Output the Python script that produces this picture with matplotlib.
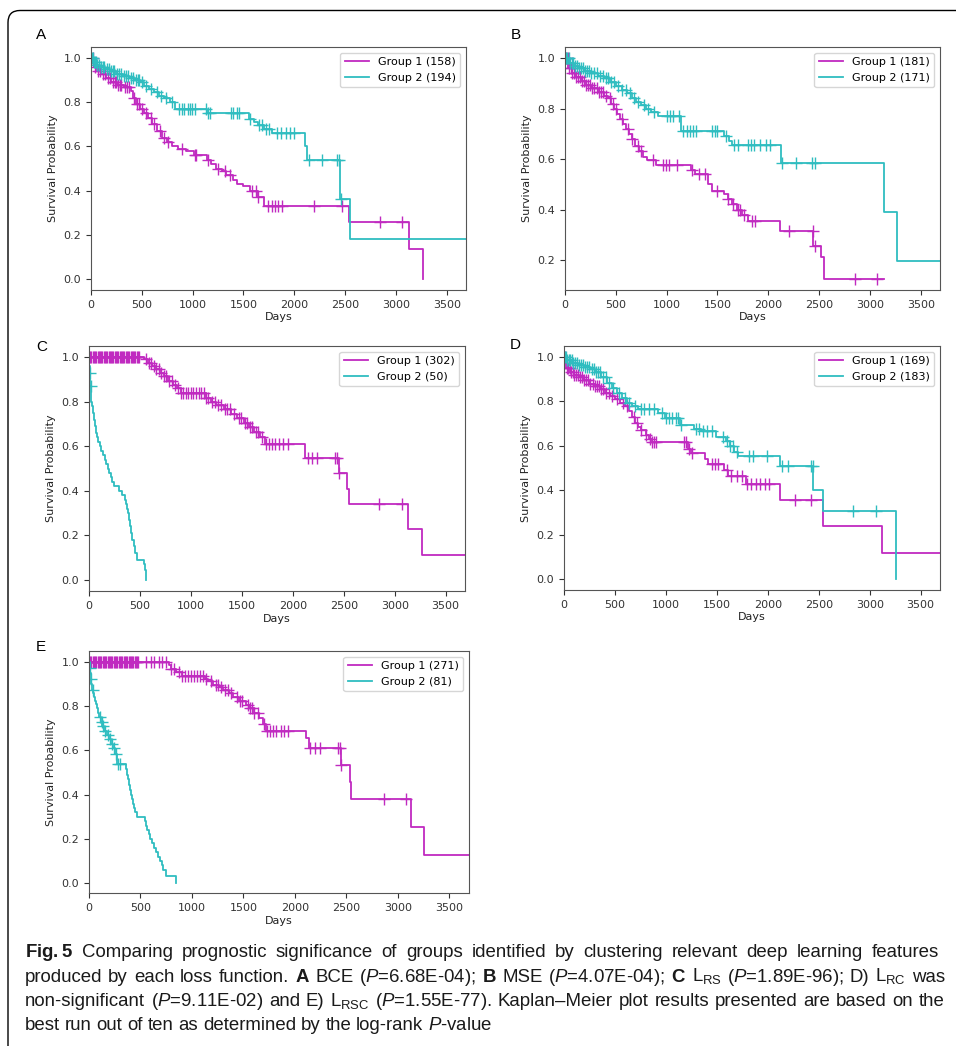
import numpy as np
import matplotlib
matplotlib.use("Agg")
import matplotlib.pyplot as plt
from matplotlib import font_manager
from matplotlib.patches import FancyBboxPatch
from matplotlib.transforms import IdentityTransform

# ---- Kaplan-Meier curves (days, survival) ----
# Panel A
A_n = [158, 194]
A_g1_t = [0, 30, 60, 100, 150, 200, 260, 320, 390, 410, 440, 480, 520, 560, 600, 650, 700, 750, 800, 860,
          930, 1010, 1140, 1180, 1230, 1290, 1330, 1400, 1440, 1500, 1560, 1640, 1700, 2540, 3125, 3265]
A_g1_s = [1.0, 0.96, 0.94, 0.93, 0.91, 0.89, 0.88, 0.87, 0.85, 0.82, 0.79, 0.77, 0.75, 0.73, 0.70, 0.67, 0.64, 0.62, 0.60, 0.59,
          0.58, 0.56, 0.54, 0.52, 0.50, 0.49, 0.47, 0.45, 0.43, 0.42, 0.40, 0.37, 0.33, 0.26, 0.135, 0.0]
A_g1_c = [15, 40, 70, 90, 120, 140, 170, 190, 220, 240, 250, 270, 290, 300, 330, 350, 370, 420, 450, 470, 500, 540,
          590, 620, 680, 720, 760, 900, 1020, 1030, 1150, 1250, 1320, 1370, 1580, 1620, 1640, 1740, 1780, 1810,
          1840, 1880, 2190, 2470, 2840, 3060]
A_g2_t = [0, 20, 50, 90, 140, 190, 250, 310, 370, 430, 480, 520, 570, 620, 670, 720, 780, 830, 1140, 1550,
          1600, 1640, 1700, 1780, 2110, 2125, 2450, 2545, 3690]
A_g2_s = [1.0, 0.98, 0.97, 0.96, 0.95, 0.94, 0.93, 0.92, 0.91, 0.90, 0.89, 0.875, 0.86, 0.845, 0.83, 0.82, 0.80, 0.77, 0.75, 0.725,
          0.71, 0.695, 0.68, 0.66, 0.60, 0.54, 0.36, 0.18, 0.18]
A_g2_c = [5, 15, 25, 35, 45, 60, 75, 100, 115, 130, 160, 175, 200, 215, 230, 260, 280, 300, 320, 340, 360, 390, 410,
          440, 460, 470, 500, 540, 590, 650, 690, 740, 800, 870, 900, 920, 950, 970, 990, 1020, 1130, 1150, 1170,
          1380, 1400, 1440, 1460, 1560, 1650, 1680, 1720, 1750, 1830, 1870, 1920, 1960, 2000, 2150, 2270, 2420,
          2440, 2460]

# Panel B
B_n = [181, 171]
B_g1_t = [0, 30, 70, 110, 160, 210, 260, 320, 380, 420, 450, 480, 510, 540, 570, 600, 630, 660, 690, 730,
          770, 810, 900, 1240, 1280, 1410, 1445, 1560, 1600, 1640, 1690, 1740, 1800, 2115, 2445, 2520, 2550, 3135]
B_g1_s = [1.0, 0.96, 0.94, 0.925, 0.91, 0.895, 0.88, 0.865, 0.85, 0.84, 0.82, 0.80, 0.78, 0.76, 0.74, 0.72, 0.70, 0.68, 0.65, 0.63,
          0.61, 0.595, 0.575, 0.555, 0.54, 0.50, 0.475, 0.46, 0.44, 0.42, 0.40, 0.38, 0.355, 0.315, 0.255, 0.21, 0.125, 0.125]
B_g1_c = [10, 25, 40, 55, 70, 90, 110, 130, 150, 170, 190, 210, 230, 250, 270, 290, 310, 330, 350, 370, 400, 440,
          470, 500, 560, 620, 660, 720, 750, 870, 960, 990, 1020, 1100, 1250, 1320, 1380, 1500, 1600, 1650, 1700,
          1720, 1760, 1840, 1870, 2200, 2440, 2460, 2850, 3070]
B_g2_t = [0, 40, 90, 140, 200, 260, 320, 380, 440, 500, 560, 610, 660, 700, 750, 800, 850, 920, 1140, 1560,
          1610, 1640, 2130, 3135, 3265, 3690]
B_g2_s = [1.0, 0.98, 0.97, 0.96, 0.95, 0.94, 0.93, 0.92, 0.905, 0.89, 0.875, 0.86, 0.84, 0.825, 0.815, 0.80, 0.785, 0.77, 0.71, 0.69,
          0.67, 0.655, 0.585, 0.39, 0.197, 0.197]
B_g2_c = [5, 20, 35, 50, 65, 80, 100, 120, 140, 160, 180, 200, 220, 240, 260, 290, 310, 340, 370, 400, 420, 450,
          480, 520, 560, 600, 640, 680, 720, 780, 820, 880, 1000, 1030, 1060, 1120, 1160, 1200, 1230, 1260, 1290,
          1450, 1480, 1500, 1580, 1660, 1700, 1800, 1830, 1860, 1920, 1980, 2020, 2140, 2270, 2430, 2460]

# Panel C
C_n = [302, 50]
C_g1_t = [0, 540, 580, 620, 660, 700, 740, 780, 820, 860, 900, 1150, 1200, 1250, 1320, 1390, 1450, 1520, 1570, 1620,
          1680, 1730, 2120, 2450, 2535, 2550, 3130, 3270, 3690]
C_g1_s = [1.0, 0.99, 0.975, 0.96, 0.945, 0.93, 0.915, 0.895, 0.875, 0.86, 0.84, 0.815, 0.80, 0.785, 0.765, 0.745, 0.725, 0.705, 0.685, 0.665,
          0.64, 0.612, 0.548, 0.478, 0.41, 0.34, 0.228, 0.112, 0.112]
C_g1_c = [0, 12, 24, 36, 48, 60, 72, 84, 96, 108, 120, 132, 144, 156, 168, 180, 192, 204, 216, 228, 240, 252, 264,
          276, 288, 300, 312, 324, 336, 348, 360, 372, 384, 396, 408, 420, 432, 444, 456, 468, 480, 492,
          560, 590, 610, 640, 660, 690, 710, 740, 760, 790, 810, 840, 870, 900, 920, 950, 970, 1000, 1020, 1050,
          1080, 1100, 1130, 1150, 1170, 1210, 1240, 1270, 1300, 1330, 1350, 1380, 1420, 1470, 1490, 1530, 1550,
          1580, 1600, 1640, 1660, 1700, 1740, 1770, 1800, 1830, 1860, 1900, 1950, 2150, 2190, 2240, 2410, 2430,
          2450, 2850, 3070]
C_g2_t = [0, 3, 6, 10, 14, 18, 24, 30, 38, 46, 55, 64, 75, 90, 105, 120, 140, 155, 170, 185,
          200, 215, 230, 245, 290, 320, 355, 365, 375, 385, 395, 405, 415, 425, 440, 455, 470, 535, 550, 556]
C_g2_s = [1.0, 0.96, 0.93, 0.89, 0.87, 0.83, 0.80, 0.78, 0.75, 0.72, 0.69, 0.66, 0.64, 0.62, 0.60, 0.58, 0.56, 0.54, 0.52, 0.50,
          0.48, 0.46, 0.44, 0.42, 0.40, 0.38, 0.36, 0.34, 0.32, 0.30, 0.27, 0.24, 0.21, 0.18, 0.15, 0.12, 0.09, 0.07, 0.045, 0.0]
C_g2_c = [8, 16]

# Panel D
D_n = [169, 183]
D_g1_t = [0, 20, 60, 100, 150, 200, 250, 300, 350, 400, 450, 500, 550, 600, 640, 670, 700, 730, 760, 800,
          830, 860, 1220, 1250, 1380, 1410, 1575, 1610, 1790, 2115, 2540, 3125, 3690]
D_g1_s = [1.0, 0.95, 0.935, 0.92, 0.91, 0.895, 0.88, 0.87, 0.855, 0.84, 0.825, 0.81, 0.795, 0.78, 0.755, 0.73, 0.705, 0.685, 0.67, 0.65,
          0.63, 0.616, 0.586, 0.567, 0.541, 0.52, 0.49, 0.463, 0.43, 0.354, 0.24, 0.118, 0.118]
D_g1_c = [10, 25, 40, 55, 70, 85, 100, 120, 140, 160, 180, 200, 220, 240, 260, 280, 300, 320, 340, 360, 380, 410,
          440, 470, 520, 580, 620, 690, 720, 760, 800, 840, 860, 880, 900, 1180, 1200, 1230, 1260, 1450, 1480,
          1510, 1600, 1640, 1700, 1750, 1800, 1840, 1880, 1920, 1970, 2010, 2270, 2420]
D_g2_t = [0, 30, 80, 140, 200, 260, 300, 360, 420, 470, 520, 570, 620, 670, 725, 925, 990, 1135, 1280, 1345,
          1495, 1590, 1625, 1670, 1705, 2115, 2445, 2540, 3260]
D_g2_s = [1.0, 0.985, 0.975, 0.965, 0.955, 0.945, 0.935, 0.91, 0.885, 0.86, 0.84, 0.815, 0.795, 0.78, 0.768, 0.747, 0.725, 0.695, 0.676, 0.665,
          0.638, 0.623, 0.60, 0.57, 0.555, 0.507, 0.40, 0.305, 0.0]
D_g2_c = [5, 15, 30, 45, 60, 75, 90, 110, 130, 150, 170, 190, 210, 230, 250, 270, 290, 310, 330, 350, 380, 410,
          440, 480, 540, 600, 640, 700, 760, 790, 830, 880, 960, 1000, 1030, 1060, 1100, 1120, 1150, 1300, 1320,
          1360, 1400, 1450, 1560, 1600, 1630, 1660, 1700, 1820, 1850, 1990, 2140, 2200, 2420, 2440, 2840, 3060]

# Panel E
E_n = [271, 81]
E_g1_t = [0, 780, 800, 840, 900, 1130, 1160, 1200, 1260, 1300, 1360, 1400, 1460, 1520, 1560, 1600, 1650, 1690, 1720, 2110,
          2135, 2446, 2530, 2545, 3127, 3256, 3690]
E_g1_s = [1.0, 0.985, 0.97, 0.955, 0.938, 0.925, 0.912, 0.898, 0.885, 0.875, 0.86, 0.84, 0.823, 0.805, 0.79, 0.77, 0.745, 0.72, 0.69, 0.658,
          0.611, 0.536, 0.455, 0.38, 0.255, 0.128, 0.128]
E_g1_c = [0, 12, 24, 36, 48, 60, 72, 84, 96, 108, 120, 132, 144, 156, 168, 180, 192, 204, 216, 228, 240, 252, 264,
          276, 288, 300, 312, 324, 336, 348, 360, 372, 384, 396, 408, 420, 432, 444, 456, 468, 480,
          550, 600, 630, 680, 712, 745, 800, 830, 870, 900, 930, 960, 990, 1020, 1050, 1080, 1110, 1140, 1180,
          1230, 1250, 1280, 1320, 1350, 1380, 1440, 1470, 1490, 1540, 1560, 1580, 1600, 1640, 1700, 1730, 1760,
          1790, 1820, 1860, 1890, 1930, 2150, 2190, 2240, 2420, 2440, 2450, 2860, 3080]
E_g2_t = [0, 5, 10, 16, 22, 30, 40, 50, 60, 70, 80, 90, 100, 115, 130, 150, 170, 190, 210, 230,
          250, 275, 355, 365, 375, 385, 395, 405, 415, 425, 437, 450, 470, 540, 550, 565, 580, 595, 610, 630,
          650, 670, 690, 705, 720, 745, 845]
E_g2_s = [1.0, 0.975, 0.95, 0.925, 0.90, 0.875, 0.86, 0.84, 0.825, 0.81, 0.79, 0.77, 0.75, 0.73, 0.71, 0.69, 0.67, 0.65, 0.63, 0.61,
          0.585, 0.54, 0.515, 0.49, 0.47, 0.445, 0.42, 0.40, 0.38, 0.357, 0.34, 0.32, 0.30, 0.28, 0.26, 0.24, 0.22, 0.20, 0.18, 0.16,
          0.14, 0.12, 0.10, 0.08, 0.06, 0.03, 0.0]
E_g2_c = [8, 20, 35, 110, 125, 140, 160, 180, 200, 220, 240, 260, 280, 300]

x_ticks = [0, 500, 1000, 1500, 2000, 2500, 3000, 3500]

# caption words are split on single spaces, so math parts hold no spaces
caption_lines = [
    r"$\mathbf{Fig.}$ $\mathbf{5}$ Comparing prognostic significance of groups identified by clustering relevant deep learning features",
    r"produced by each loss function. $\mathbf{A}$ BCE ($\mathit{P}$=6.68E-04); $\mathbf{B}$ MSE ($\mathit{P}$=4.07E-04); "
    r"$\mathbf{C}$ $\mathrm{L}_{\mathrm{RS}}$ ($\mathit{P}$=1.89E-96); D) $\mathrm{L}_{\mathrm{RC}}$ was",
    r"non-significant ($\mathit{P}$=9.11E-02) and E) $\mathrm{L}_{\mathrm{RSC}}$ ($\mathit{P}$=1.55E-77). "
    r"Kaplan–Meier plot results presented are based on the",
    r"best run out of ten as determined by the log-rank $\mathit{P}$-value",
]

# ---- fonts ----
names = {f.name for f in font_manager.fontManager.ttflist}
CAP_FONT = "Liberation Sans Narrow" if "Liberation Sans Narrow" in names else "Liberation Sans"
plt.rcParams["mathtext.fontset"] = "custom"
plt.rcParams["mathtext.rm"] = CAP_FONT
plt.rcParams["mathtext.it"] = CAP_FONT + ":italic"
plt.rcParams["mathtext.bf"] = CAP_FONT + ":bold"

W, H = 956, 1046
fig = plt.figure(figsize=(W / 100, H / 100), dpi=100)
px = IdentityTransform()

MAG = "#c02ac0"
CYN = "#2fbdc0"


def km(ax, t, s, cens, color, label):
    t = np.asarray(t, float)
    s = np.asarray(s, float)
    ax.step(t, s, where="post", color=color, lw=1.3, label=label)
    idx = np.searchsorted(t, cens, side="right") - 1
    ax.plot(cens, s[idx], ls="none", marker="+", ms=9, mew=1.0, color=color)


def rect(l, t, r, b):
    return [l / W, 1 - b / H, (r - l) / W, (b - t) / H]


panels = [
    ("A", rect(91, 47, 466, 290), (36, 39), A_n, (A_g1_t, A_g1_s, A_g1_c), (A_g2_t, A_g2_s, A_g2_c), (-0.05, 1.05)),
    ("B", rect(565, 47, 940, 290), (511, 39), B_n, (B_g1_t, B_g1_s, B_g1_c), (B_g2_t, B_g2_s, B_g2_c), (0.081, 1.044)),
    ("C", rect(89, 346, 465, 591), (36, 351), C_n, (C_g1_t, C_g1_s, C_g1_c), (C_g2_t, C_g2_s, C_g2_c), (-0.05, 1.05)),
    ("D", rect(564, 346, 940, 590), (510, 349), D_n, (D_g1_t, D_g1_s, D_g1_c), (D_g2_t, D_g2_s, D_g2_c), (-0.05, 1.05)),
    ("E", rect(89, 651, 469, 893), (36, 651), E_n, (E_g1_t, E_g1_s, E_g1_c), (E_g2_t, E_g2_s, E_g2_c), (-0.045, 1.05)),
]

for letter, box, lab_xy, n, g1, g2, ylim in panels:
    ax = fig.add_axes(box)
    km(ax, *g1, MAG, f"Group 1 ({n[0]})")
    km(ax, *g2, CYN, f"Group 2 ({n[1]})")
    ax.set_xlim(0, 3690)
    ax.set_ylim(*ylim)
    ax.set_xticks(x_ticks)
    yt = [v for v in [0.0, 0.2, 0.4, 0.6, 0.8, 1.0] if v >= ylim[0]]
    ax.set_yticks(yt)
    ax.set_yticklabels([f"{v:.1f}" for v in yt])
    ax.tick_params(labelsize=8, colors="#333333", length=3.5, width=0.8)
    for sp in ax.spines.values():
        sp.set_color("#555555")
    ax.set_xlabel("Days", fontsize=8, color="#222222", labelpad=2)
    ax.set_ylabel("Survival Probability", fontsize=8, color="#222222", labelpad=4)
    ax.legend(loc="upper right", fontsize=8, handlelength=2.2, borderaxespad=0.5)
    fig.text(lab_xy[0], H - lab_xy[1], letter, transform=px, fontsize=11,
             family="Liberation Sans", va="baseline", ha="left")

# ---- outer rounded frame (cut off at right and bottom) ----
frame = FancyBboxPatch((8, -30), 1100, H - 10.5 + 30, boxstyle="round,pad=0,rounding_size=12",
                       transform=px, fill=False, ec="black", lw=1.0)
fig.add_artist(frame)

# ---- caption, justified like the journal layout ----
renderer = fig.canvas.get_renderer()
x_left, x_right = 25, 945
baselines = [957, 981.5, 1006, 1030.5]

probe = fig.text(0, 0, caption_lines[1], transform=px, fontsize=14, family=CAP_FONT)
fs = 14 * (x_right - x_left - 12) / probe.get_window_extent(renderer).width
probe.remove()

for i, (line, yb) in enumerate(zip(caption_lines, baselines)):
    words = line.split(" ")
    arts = [fig.text(0, H - yb, w, transform=px, fontsize=fs, family=CAP_FONT,
                     va="baseline", ha="left", color="#1a1a1a") for w in words]
    widths = [a.get_window_extent(renderer).width for a in arts]
    space = fs * 100 / 72 * 0.26
    if i < len(caption_lines) - 1:
        gap = (x_right - x_left - sum(widths)) / (len(words) - 1)
    else:
        gap = space
    x = x_left
    for k, (a, wd) in enumerate(zip(arts, widths)):
        a.set_x(x)
        x += wd + (space * 0.5 if (i == 0 and k == 0) else gap)

fig.savefig("out.png", dpi=100)
